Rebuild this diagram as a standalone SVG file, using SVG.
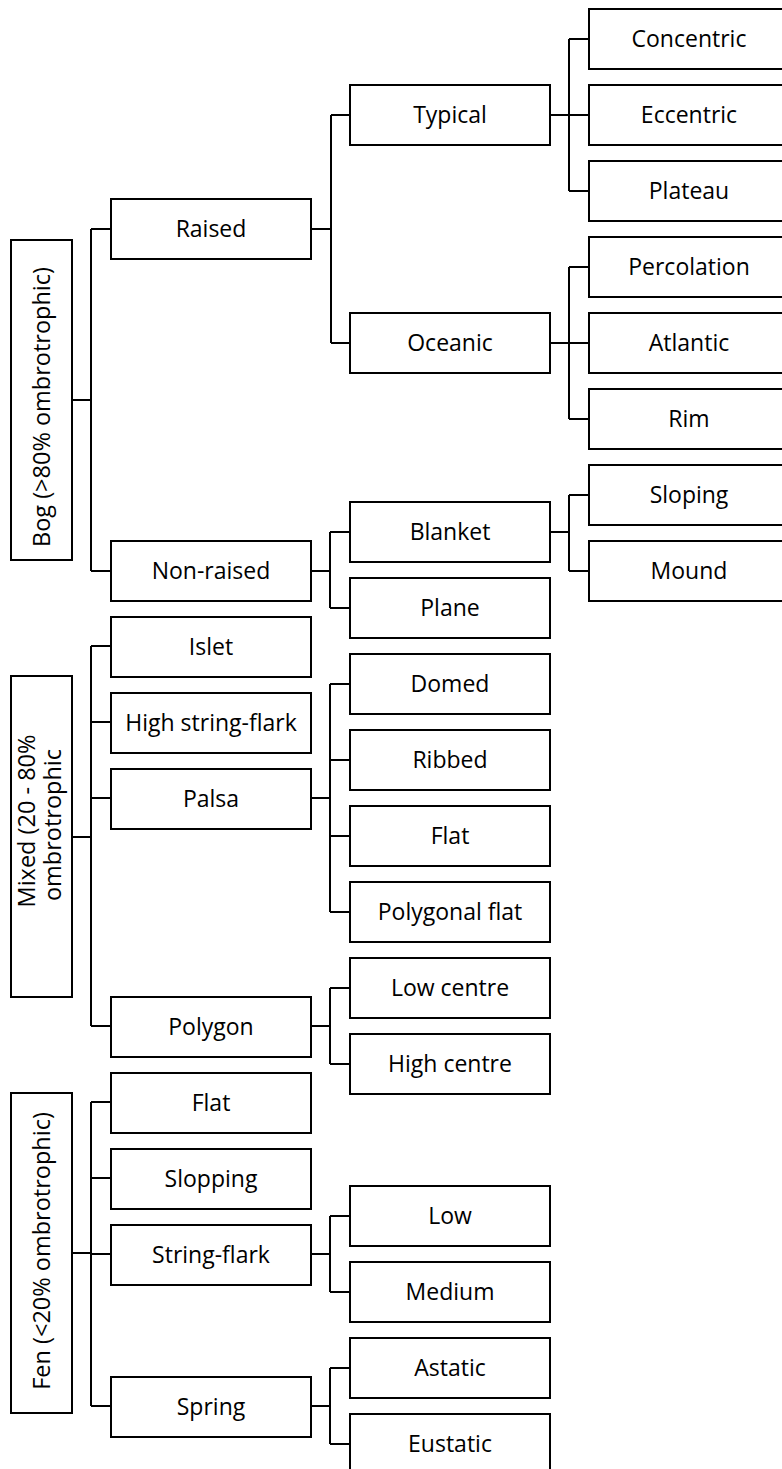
<svg xmlns="http://www.w3.org/2000/svg" width="782" height="1469" viewBox="0 0 782 1469">
<style>
rect{fill:#fff;stroke:#000;stroke-width:2}
#connectors path{fill:none;stroke:#000;stroke-width:2}
text{font-family:"Open Sans","Noto Sans","Liberation Sans",sans-serif;font-size:23px;fill:#000;text-anchor:middle}
.v{font-size:23.5px}
</style>
<rect x="0" y="0" width="782" height="1469" style="stroke:none"/>
<g id="connectors">
<path d="M72 400H91M91 229V571M91 229H111M91 571H111"/>
<path d="M311 229H331M331 115V343M331 115H350M331 343H350"/>
<path d="M550 115H569M569 39V191M569 39H589M569 115H589M569 191H589"/>
<path d="M550 343H569M569 267V419M569 267H589M569 343H589M569 419H589"/>
<path d="M311 571H330M330 532V608M330 532H350M330 608H350"/>
<path d="M550 532H569M569 495V571M569 495H589M569 571H589"/>
<path d="M72 837H91M91 646V1026M91 646H111M91 722H111M91 798H111M91 1026H111"/>
<path d="M311 798H330M330 684V912M330 684H350M330 760H350M330 836H350M330 912H350"/>
<path d="M311 1026H330M330 988V1064M330 988H350M330 1064H350"/>
<path d="M72 1253H91M91 1102V1406M91 1102H111M91 1178H111M91 1254H111M91 1406H111"/>
<path d="M311 1254H330M330 1216V1292M330 1216H350M330 1292H350"/>
<path d="M311 1406H330M330 1368V1444M330 1368H350M330 1444H350"/>
</g>
<g id="bog"><rect x="11" y="240" width="61" height="320"/><text class="v" transform="translate(50,407) rotate(-90)">Bog (&gt;80% ombrotrophic)</text></g>
<g id="mixed"><rect x="11" y="676" width="61" height="321"/><text class="v" transform="translate(35,821) rotate(-90)">Mixed (20 - 80%</text><text class="v" transform="translate(61,825) rotate(-90)">ombrotrophic</text></g>
<g id="fen"><rect x="11" y="1093" width="61" height="320"/><text class="v" transform="translate(50,1251) rotate(-90)">Fen (&lt;20% ombrotrophic)</text></g>

<g id="raised"><rect x="111" y="199" width="200" height="60"/><text x="211" y="237">Raised</text></g>
<g id="nonraised"><rect x="111" y="541" width="200" height="60"/><text x="211" y="579">Non-raised</text></g>
<g id="islet"><rect x="111" y="617" width="200" height="60"/><text x="211" y="655">Islet</text></g>
<g id="highstring"><rect x="111" y="693" width="200" height="60"/><text x="211" y="731">High string-flark</text></g>
<g id="palsa"><rect x="111" y="769" width="200" height="60"/><text x="211" y="807">Palsa</text></g>
<g id="polygon"><rect x="111" y="997" width="200" height="60"/><text x="211" y="1035">Polygon</text></g>
<g id="fenflat"><rect x="111" y="1073" width="200" height="60"/><text x="211" y="1111">Flat</text></g>
<g id="slopping"><rect x="111" y="1149" width="200" height="60"/><text x="211" y="1187">Slopping</text></g>
<g id="stringflark"><rect x="111" y="1225" width="200" height="60"/><text x="211" y="1263">String-flark</text></g>
<g id="spring"><rect x="111" y="1377" width="200" height="60"/><text x="211" y="1415">Spring</text></g>

<g id="typical"><rect x="350" y="85" width="200" height="60"/><text x="450" y="123">Typical</text></g>
<g id="oceanic"><rect x="350" y="313" width="200" height="60"/><text x="450" y="351">Oceanic</text></g>
<g id="blanket"><rect x="350" y="502" width="200" height="60"/><text x="450" y="540">Blanket</text></g>
<g id="plane"><rect x="350" y="578" width="200" height="60"/><text x="450" y="616">Plane</text></g>
<g id="domed"><rect x="350" y="654" width="200" height="60"/><text x="450" y="692">Domed</text></g>
<g id="ribbed"><rect x="350" y="730" width="200" height="60"/><text x="450" y="768">Ribbed</text></g>
<g id="palsaflat"><rect x="350" y="806" width="200" height="60"/><text x="450" y="844">Flat</text></g>
<g id="polyflat"><rect x="350" y="882" width="200" height="60"/><text x="450" y="920">Polygonal flat</text></g>
<g id="lowcentre"><rect x="350" y="958" width="200" height="60"/><text x="450" y="996">Low centre</text></g>
<g id="highcentre"><rect x="350" y="1034" width="200" height="60"/><text x="450" y="1072">High centre</text></g>
<g id="low"><rect x="350" y="1186" width="200" height="60"/><text x="450" y="1224">Low</text></g>
<g id="medium"><rect x="350" y="1262" width="200" height="60"/><text x="450" y="1300">Medium</text></g>
<g id="astatic"><rect x="350" y="1338" width="200" height="60"/><text x="450" y="1376">Astatic</text></g>
<g id="eustatic"><rect x="350" y="1414" width="200" height="60"/><text x="450" y="1452">Eustatic</text></g>

<g id="concentric"><rect x="589" y="9" width="200" height="60"/><text x="689" y="47">Concentric</text></g>
<g id="eccentric"><rect x="589" y="85" width="200" height="60"/><text x="689" y="123">Eccentric</text></g>
<g id="plateau"><rect x="589" y="161" width="200" height="60"/><text x="689" y="199">Plateau</text></g>
<g id="percolation"><rect x="589" y="237" width="200" height="60"/><text x="689" y="275">Percolation</text></g>
<g id="atlantic"><rect x="589" y="313" width="200" height="60"/><text x="689" y="351">Atlantic</text></g>
<g id="rim"><rect x="589" y="389" width="200" height="60"/><text x="689" y="427">Rim</text></g>
<g id="sloping"><rect x="589" y="465" width="200" height="60"/><text x="689" y="503">Sloping</text></g>
<g id="mound"><rect x="589" y="541" width="200" height="60"/><text x="689" y="579">Mound</text></g>
</svg>
